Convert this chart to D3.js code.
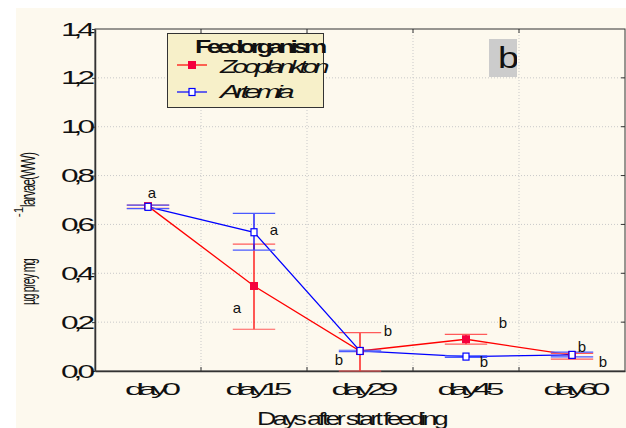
<!DOCTYPE html>
<html>
<head>
<meta charset="utf-8">
<script src="https://cdn.jsdelivr.net/npm/d3@7"></script>
<style>
  body { margin: 0; background: #fff; }
  text { font-family: "Liberation Sans", Arial, sans-serif; }
</style>
</head>
<body>
<div id="chart"></div>
<script>
// data
const categories = ["day0", "day15", "day29", "day45", "day60"]
const zooMean  = [0.675, 0.348, 0.082, 0.130, 0.065]
const zooUpper = [0.679, 0.519, 0.157, 0.150, 0.072]
const zooLower = [0.666, 0.171, 0.000, 0.110, 0.049]
const artMean  = [0.672, 0.568, 0.082, 0.059, 0.066]
const artUpper = [0.679, 0.645, 0.085, 0.062, 0.077]
const artLower = [0.665, 0.495, 0.079, 0.056, 0.058]
const yTicks = [0, 0.2, 0.4, 0.6, 0.8, 1.0, 1.2, 1.4]
const seriesNames = ["Zooplankton", "Artemia"]
// significance letters: which series / day they belong to
const letters = [
  { s: 1, i: 0, t: "a" }, { s: 1, i: 1, t: "a" }, { s: 0, i: 1, t: "a" },
  { s: 0, i: 2, t: "b" }, { s: 1, i: 2, t: "b" },
  { s: 0, i: 3, t: "b" }, { s: 1, i: 3, t: "b" },
  { s: 1, i: 4, t: "b" }, { s: 0, i: 4, t: "b" },
]
// pixel offsets of the letters from their point
const letterOffsets = [[4, -9], [20, 3], [-17, 27], [28, -15], [-21, 14], [37, -11], [18, 10], [10, -3], [31, 12]]

// squeeze a text: tight letters, then stretch to the wanted length
function squeeze(sel, len, spacing) {
  sel.style("letter-spacing", spacing + "px")
    .attr("textLength", len)
    .attr("lengthAdjust", "spacingAndGlyphs")
}

function drawChart() {
  const width = 626
  const height = 428
  const plot = { left: 95, right: 625, top: 29, bottom: 371 }

  const svg = d3.select("#chart").append("svg")
    .attr("width", width)
    .attr("height", height)

  svg.append("rect")
    .attr("x", 16).attr("y", 8)
    .attr("width", width - 16).attr("height", height - 8)
    .attr("fill", "#fdf9ee")

  const xScale = d3.scaleBand()
    .domain(categories)
    .range([plot.left, plot.right])
  const yScale = d3.scaleLinear()
    .domain([0, 1.4])
    .range([plot.bottom, plot.top])
  const xMid = d => xScale(d) + xScale.bandwidth() / 2

  // grid
  const grid = svg.append("g")
    .attr("stroke", "#c9c9c9")
    .attr("stroke-dasharray", "1,2")
  grid.selectAll(".hg").data(yTicks.slice(1, -1)).join("line")
    .attr("x1", plot.left).attr("x2", plot.right)
    .attr("y1", d => yScale(d)).attr("y2", d => yScale(d))
  grid.selectAll(".vg").data(categories.slice(1)).join("line")
    .attr("x1", d => xScale(d)).attr("x2", d => xScale(d))
    .attr("y1", plot.top).attr("y2", plot.bottom)

  // frame + inner ticks
  svg.append("rect")
    .attr("x", plot.left).attr("y", plot.top)
    .attr("width", plot.right - plot.left).attr("height", plot.bottom - plot.top)
    .attr("fill", "none").attr("stroke", "#333").attr("stroke-width", 1)
  const tk = svg.append("g").attr("stroke", "#333")
  tk.selectAll(".tt").data(categories.slice(1)).join("line")
    .attr("x1", d => xScale(d)).attr("x2", d => xScale(d))
    .attr("y1", plot.top).attr("y2", plot.top + 4)
  tk.selectAll(".bt").data(categories.slice(1)).join("line")
    .attr("x1", d => xScale(d)).attr("x2", d => xScale(d))
    .attr("y1", plot.bottom).attr("y2", plot.bottom - 4)
  tk.selectAll(".rt").data(yTicks.slice(1, -1)).join("line")
    .attr("x1", plot.right).attr("x2", plot.right - 4)
    .attr("y1", d => yScale(d)).attr("y2", d => yScale(d))

  // y axis
  const yAxis = svg.append("g")
    .attr("transform", `translate(${plot.left},0)`)
    .call(d3.axisLeft(yScale)
      .tickValues(yTicks)
      .tickSizeInner(3).tickSizeOuter(0).tickPadding(2)
      .tickFormat(d => d.toFixed(1).replace(".", ",")))
  yAxis.select(".domain").attr("stroke", "#333").attr("stroke-width", 1.5)
  yAxis.selectAll("line").attr("stroke", "#333")
  yAxis.selectAll("text")
    .style("font-size", "19px").attr("fill", "#111")
    .call(squeeze, 29, -3)

  // x axis
  const xAxis = svg.append("g")
    .attr("transform", `translate(0,${plot.bottom})`)
    .call(d3.axisBottom(xScale).tickSize(0).tickPadding(12))
  xAxis.select(".domain").attr("stroke", "#333").attr("stroke-width", 1.5)
  xAxis.selectAll("text")
    .style("font-size", "17px").attr("fill", "#111")
    .attr("dx", 2)
    .each(function(d) { d3.select(this).call(squeeze, d.length > 4 ? 61 : 50, -3) })

  // axis titles
  svg.append("text")
    .attr("x", 351).attr("y", 425)
    .attr("text-anchor", "middle")
    .style("font-size", "18px").attr("fill", "#111")
    .text("Days after start feeding")
    .call(squeeze, 188, -2.5)

  // rotated title: squeeze with a scale transform along the reading direction
  const yTitle = [
    { t: "µg prey mg", c: 282, len: 46, size: 21, off: 0 },
    { t: "-1", c: 212, len: 0, size: 12, off: -12 },
    { t: "larvae(WW)", c: 180, len: 54, size: 21, off: 0 },
  ]
  yTitle.forEach(p => {
    const g = svg.append("g")
    const txt = g.append("text")
      .attr("text-anchor", "middle").attr("y", p.off)
      .style("font-size", p.size + "px").attr("fill", "#111")
      .style("letter-spacing", p.len ? "-1.5px" : "0px")
      .text(p.t)
    const natural = txt.node().getComputedTextLength()
    const sx = p.len ? p.len / natural : 1
    g.attr("transform", `translate(35,${p.c}) rotate(-90) scale(${sx},1)`)
  })

  // series
  const series = [
    { mean: zooMean, up: zooUpper, lo: zooLower, color: "#ff0000", cap: "#ff5a5a", fill: "#f5003d", open: false },
    { mean: artMean, up: artUpper, lo: artLower, color: "#0000ff", cap: "#4a5aff", fill: "#ffffff", open: true },
  ]
  const capHalf = xScale.bandwidth() * 0.2
  const line = d3.line().x((d, i) => xMid(categories[i])).y(d => yScale(d))

  series.forEach(s => {
    const g = svg.append("g")
    g.append("path")
      .attr("d", line(s.mean))
      .attr("fill", "none").attr("stroke", s.color).attr("stroke-width", 1.3)
    categories.forEach((c, i) => {
      const x = xMid(c)
      g.append("line")
        .attr("x1", x).attr("x2", x)
        .attr("y1", yScale(s.up[i])).attr("y2", yScale(s.lo[i]))
        .attr("stroke", s.color).attr("stroke-width", 1.3)
      ;[s.up[i], s.lo[i]].forEach(v => {
        g.append("line")
          .attr("x1", x - capHalf).attr("x2", x + capHalf)
          .attr("y1", yScale(v)).attr("y2", yScale(v))
          .attr("stroke", s.cap).attr("stroke-width", 1.2)
      })
    })
  })
  series.forEach(s => {
    svg.append("g").selectAll("rect").data(s.mean).join("rect")
      .attr("x", (d, i) => xMid(categories[i]) - (s.open ? 3 : 4))
      .attr("y", d => yScale(d) - (s.open ? 3.5 : 4))
      .attr("width", s.open ? 6 : 8).attr("height", s.open ? 7 : 8)
      .attr("fill", s.fill)
      .attr("stroke", s.open ? s.color : "none").attr("stroke-width", 1.2)
  })

  // letters
  svg.append("g").selectAll("text").data(letters).join("text")
    .attr("x", (d, k) => xMid(categories[d.i]) + letterOffsets[k][0])
    .attr("y", (d, k) => yScale(series[d.s].mean[d.i]) + letterOffsets[k][1])
    .attr("text-anchor", "middle")
    .style("font-size", "15px").attr("fill", "#111")
    .text(d => d.t)

  // panel label
  svg.append("clipPath").attr("id", "bclip")
    .append("rect").attr("x", 489).attr("y", 39).attr("width", 28).attr("height", 38)
  svg.append("rect")
    .attr("x", 489).attr("y", 39).attr("width", 28).attr("height", 38)
    .attr("fill", "#cccccc")
  svg.append("text")
    .attr("x", 498).attr("y", 68)
    .attr("clip-path", "url(#bclip)")
    .style("font-size", "29px").attr("fill", "#111")
    .attr("textLength", 21).attr("lengthAdjust", "spacingAndGlyphs")
    .text("b")

  // legend
  const lg = svg.append("g")
  lg.append("rect")
    .attr("x", 167.5).attr("y", 33.5).attr("width", 156).attr("height", 74)
    .attr("fill", "#f7f0c9").attr("stroke", "#333").attr("stroke-width", 1)
  lg.append("text")
    .attr("x", 195).attr("y", 53)
    .style("font-size", "18px").style("font-weight", "bold").attr("fill", "#111")
    .text("Feedorganism")
    .call(squeeze, 128, -3)
  series.forEach((s, k) => {
    const y = k === 0 ? 65 : 92
    lg.append("line")
      .attr("x1", 177).attr("x2", 207).attr("y1", y).attr("y2", y)
      .attr("stroke", s.color).attr("stroke-width", 1.2)
    lg.append("rect")
      .attr("x", s.open ? 189 : 188).attr("y", y - (s.open ? 3.5 : 4))
      .attr("width", s.open ? 6 : 8).attr("height", s.open ? 7 : 8)
      .attr("fill", s.fill)
      .attr("stroke", s.open ? s.color : "none").attr("stroke-width", 1.2)
    lg.append("text")
      .attr("x", 220).attr("y", k === 0 ? 73 : 98)
      .style("font-size", "19px").style("font-style", "italic").attr("fill", "#111")
      .text(seriesNames[k])
      .call(squeeze, k === 0 ? 105 : 70, -3)
  })
}
drawChart()
</script>
</body>
</html>
